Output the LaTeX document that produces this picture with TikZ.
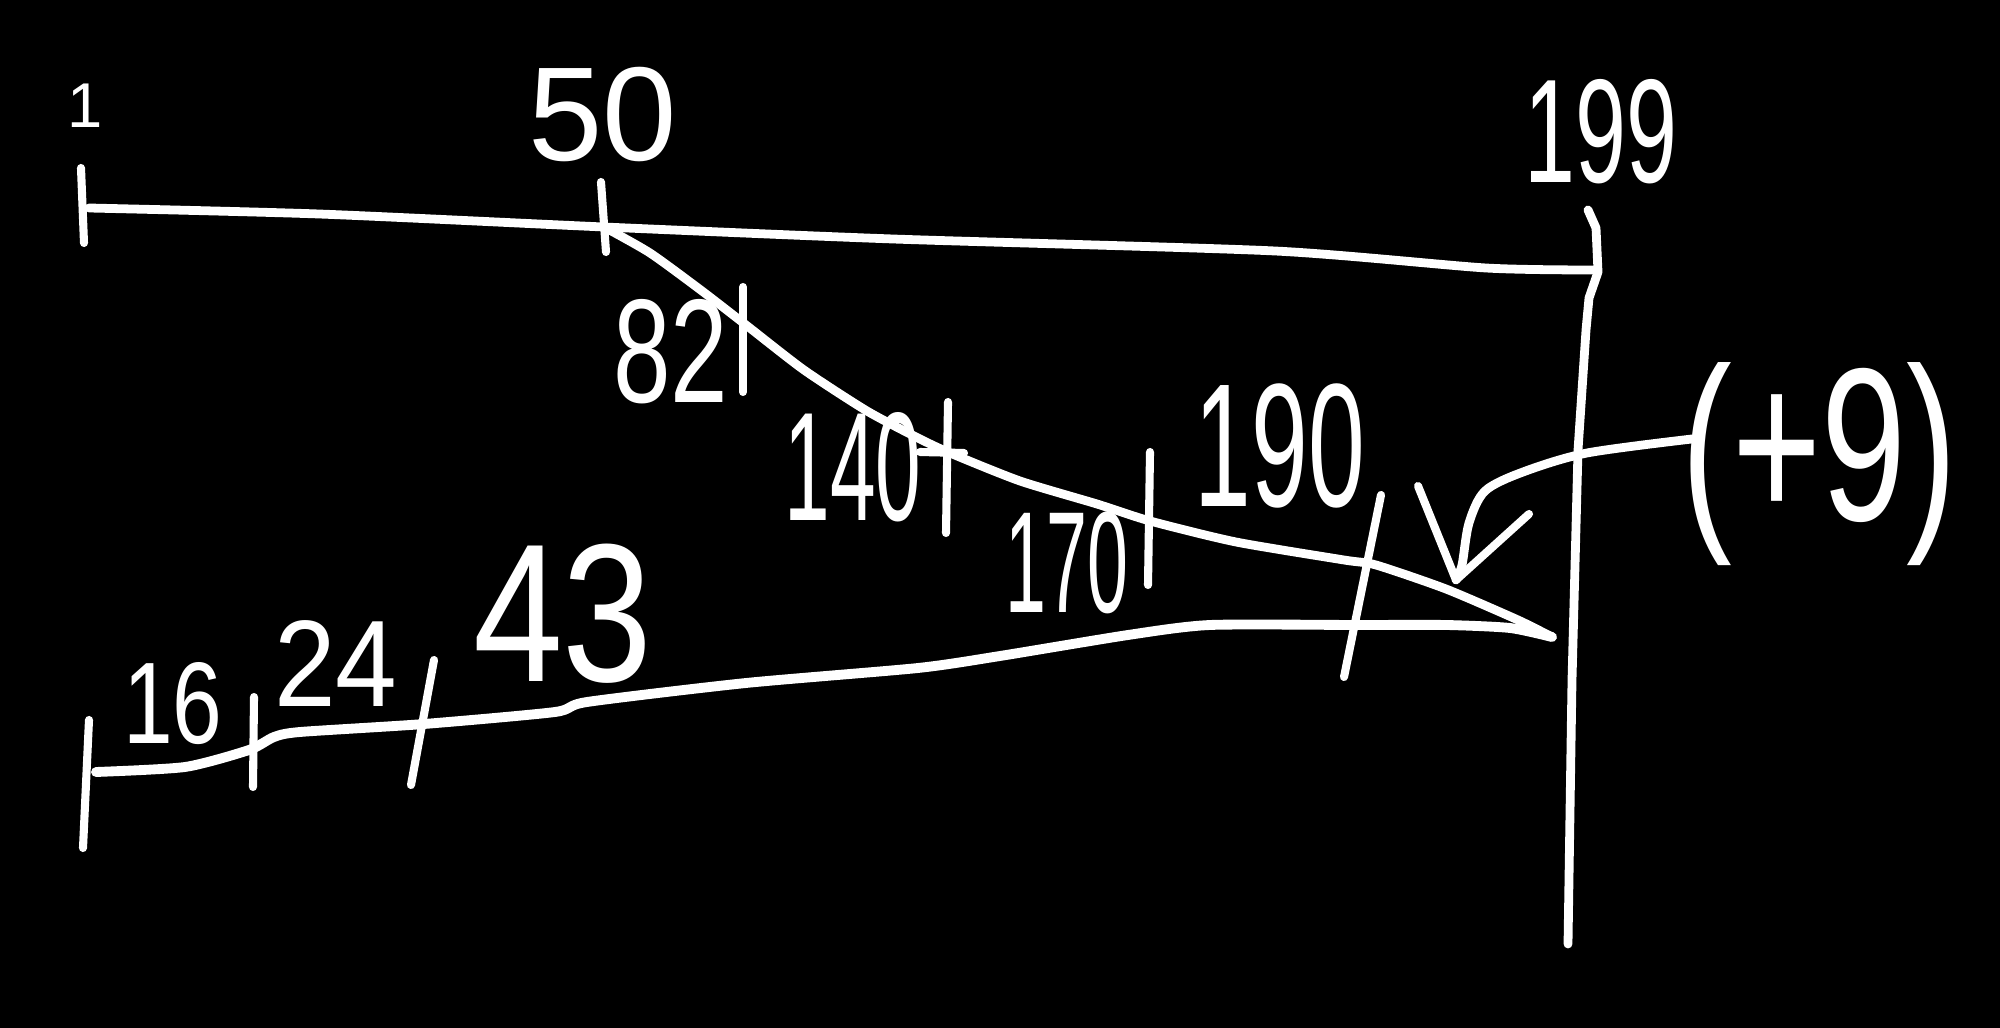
\documentclass[tikz,border=0pt]{standalone}
\usepackage{fontspec}
\setmainfont{Liberation Sans}
\newcommand{\handnum}[3]{\fontsize{#1}{#1}\selectfont\scalebox{#2}[1]{#3}}
\begin{document}
\begin{tikzpicture}[x=0.01cm,y=-0.01cm, line cap=round, line join=round,
  stroke/.style={draw=white, line width=2.5pt},
  tickmark/.style={draw=white, line width=2.3pt},
  lbl/.style={text=white, inner sep=0pt, anchor=center}]
\fill[black] (0,0) rectangle (2000,1028);
\useasboundingbox (0,0) rectangle (2000,1028);

% ---------- labels ----------
\node[lbl] (l1)   at (85,106)   {\handnum{18}{1}{1}};
\node[lbl] (l50)  at (603,115)  {\handnum{38}{1}{50}};
\node[lbl] (l199) at (1601,132) {\handnum{42}{0.62}{199}};
\node[lbl] (l82)  at (671,352)  {\handnum{42}{0.7}{82}};
\node[lbl] (l140) at (853,467)  {\handnum{44}{0.53}{140}};
\node[lbl] (l170) at (1067,563) {\handnum{41}{0.51}{170}};
\node[lbl] (l190) at (1280,446) {\handnum{50}{0.58}{190}};
\node[lbl] (lp9)  at (1819,464) {\handnum{62}{0.7}{(+9)}};
\node[lbl] (l16)  at (173,704)  {\handnum{33}{0.77}{16}};
\node[lbl] (l24)  at (336,664)  {\handnum{35}{0.9}{24}};
\node[lbl] (l43)  at (563,614)  {\handnum{56}{0.82}{43}};

% ---------- top line ----------
\coordinate (tA) at (89,208);
\coordinate (t2) at (319,214);
\coordinate (t50) at (604,227);
\coordinate (t3) at (893,239);
\coordinate (t4) at (1275,251);
\coordinate (t5) at (1486,268);
\coordinate (tE) at (1596,270);
\draw[stroke] plot[smooth, tension=0.4] coordinates {(tA) (t2) (t50) (t3) (t4) (t5) (tE)};

% ---------- right vertical ----------
\coordinate (r0) at (1588,210);
\coordinate (r1) at (1596,228);
\coordinate (r2) at (1598,272);
\coordinate (r3) at (1589,298);
\coordinate (r4) at (1586,330);
\coordinate (r5) at (1578,450);
\coordinate (r6) at (1572,680);
\coordinate (r7) at (1568,944);
\draw[stroke] (r0) -- (r1) -- (r2) -- (r3) -- (r4) -- (r5) -- (r6) -- (r7);

% ---------- diagonal line ----------
\coordinate (d1) at (650,253);
\coordinate (d2) at (702,291);
\coordinate (d3) at (746,325);
\coordinate (d4) at (804,370);
\coordinate (d5) at (867,411);
\coordinate (d6) at (918,438);
\coordinate (d7) at (950,453);
\coordinate (d8) at (1020,481);
\coordinate (d9) at (1097,504);
\coordinate (d10) at (1150,521);
\coordinate (d11) at (1236,542);
\coordinate (d12) at (1344,560);
\coordinate (d13) at (1376,565);
\coordinate (d14) at (1446,589);
\coordinate (d15) at (1518,620);
\coordinate (tip) at (1552,637);
\draw[stroke] plot[smooth, tension=0.4] coordinates {(t50) (d1) (d2) (d3) (d4) (d5) (d6) (d7) (d8) (d9) (d10) (d11) (d12) (d13) (d14) (d15) (tip)};

% ---------- bottom line ----------
\coordinate (b0) at (96,772);
\coordinate (b1) at (185,767);
\coordinate (b2) at (249,750);
\coordinate (b3) at (274,737);
\coordinate (b4) at (300,732);
\coordinate (b5) at (424,724);
\coordinate (b6) at (555,712);
\coordinate (b7) at (587,702);
\coordinate (b8) at (746,683);
\coordinate (b9) at (918,668);
\coordinate (b10) at (1000,656);
\coordinate (b11) at (1128,635);
\coordinate (b12) at (1210,625);
\coordinate (b13) at (1357,625);
\coordinate (b14) at (1446,625);
\coordinate (b15) at (1510,628);
\draw[stroke, line width=2.8pt] plot[smooth, tension=0.4] coordinates {(b0) (b1) (b2) (b3) (b4) (b5) (b6) (b7) (b8) (b9) (b10) (b11) (b12) (b13) (b14) (b15) (tip)};

% ---------- ticks ----------
\coordinate (k1a) at (81,168);   \coordinate (k1b) at (84,243);
\coordinate (k50a) at (601,182); \coordinate (k50b) at (606,252);
\coordinate (k82a) at (743,287); \coordinate (k82b) at (743,392);
\coordinate (k140a) at (948,402); \coordinate (k140b) at (946,533);
\coordinate (k140c) at (920,452); \coordinate (k140d) at (964,453);
\coordinate (k170a) at (1150,452); \coordinate (k170b) at (1148,585);
\coordinate (k190a) at (1381,495); \coordinate (k190b) at (1344,677);
\coordinate (kBa) at (89,720);   \coordinate (kBb) at (83,848);
\coordinate (k16a) at (254,697); \coordinate (k16b) at (253,787);
\coordinate (k24a) at (434,660); \coordinate (k24b) at (411,785);
\draw[tickmark] (k1a) -- (k1b);
\draw[tickmark] (k50a) -- (k50b);
\draw[tickmark] (k82a) -- (k82b);
\draw[tickmark] (k140a) -- (k140b);
\draw[tickmark] (k140c) -- (k140d);
\draw[tickmark] (k170a) -- (k170b);
\draw[tickmark] (k190a) -- (k190b);
\draw[tickmark] (kBa) -- (kBb);
\draw[tickmark] (k16a) -- (k16b);
\draw[tickmark] (k24a) -- (k24b);

% ---------- curved arrow from (+9) ----------
\coordinate (a0) at (1692,439);
\coordinate (a1) at (1587,453);
\coordinate (a2) at (1523,472);
\coordinate (a3) at (1485,491);
\coordinate (a4) at (1469,523);
\coordinate (a5) at (1462,565);
\coordinate (av) at (1456,580);
\coordinate (hl) at (1418,486);
\coordinate (hr) at (1529,514);
\draw[stroke] plot[smooth, tension=0.5] coordinates {(a0) (a1) (a2) (a3) (a4) (a5) (av)};
\draw[tickmark] (hl) -- (av) -- (hr);
\end{tikzpicture}
\end{document}
